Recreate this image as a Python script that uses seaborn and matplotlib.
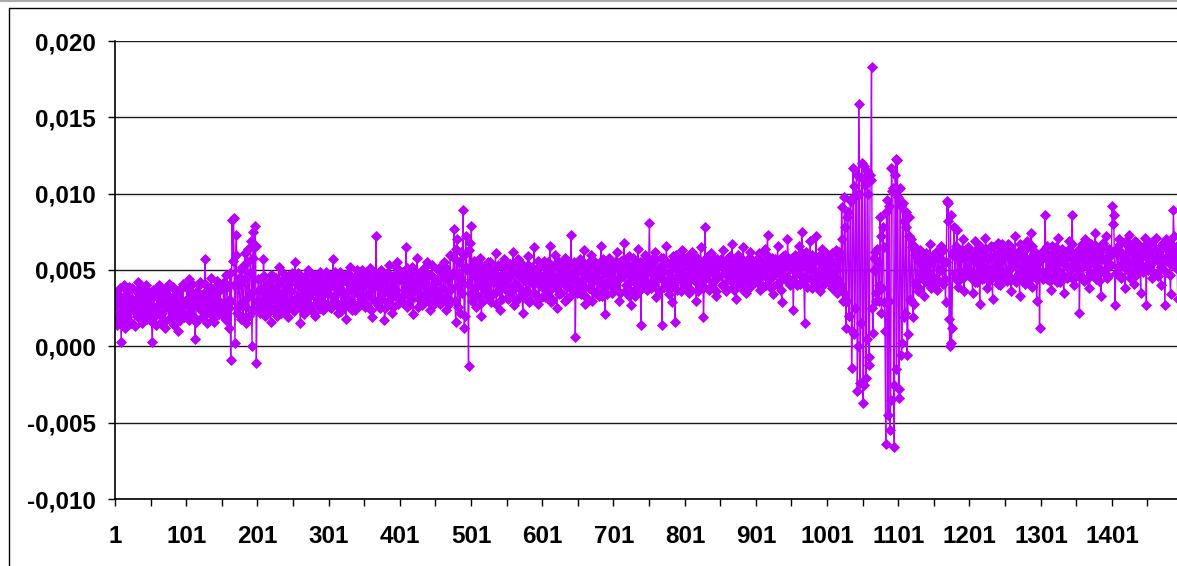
import numpy as np
import pandas as pd
import matplotlib
matplotlib.use("Agg")
import matplotlib.pyplot as plt
import seaborn as sns
from matplotlib.ticker import FixedLocator, FuncFormatter
from matplotlib.lines import Line2D

# Values in units of 1e-4.
# odd_XXXX: observations XXXX, XXXX+2, ... ; even_XXXX: observations XXXX+1, XXXX+3, ...
odd_0001 = [27, 18, 34, 22, 3, 31, 40, 24, 19, 36, 28, 15, 38, 25, 30, 21, 42, 26, 17, 33, 29, 22, 37, 20, 31]
odd_0051 = [24, 3, 33, 20, 36, 27, 15, 38, 22, 29, 12, 34, 26, 41, 19, 30, 23, 37, 28, 10, 32, 25, 39, 21, 30]
odd_0101 = [30, 22, 44, 26, 35, 18, 5, 33, 27, 40, 24, 31, 20, 57, 29, 36, 23, 45, 28, 16, 34, 25, 41, 30, 22]
odd_0151 = [28, 38, 21, 47, 30, 12, -9, 83, 84, 2, 73, 25, 40, 18, 52, 30, 61, 15, 64, 33, 69, 0, 75, 79, -11]
odd_0201 = [36, 24, 45, 30, 57, 20, 38, 27, 42, 16, 33, 46, 25, 39, 29, 52, 22, 35, 44, 28, 37, 19, 41, 31, 48]
odd_0251 = [30, 55, 26, 40, 33, 15, 45, 29, 38, 23, 50, 32, 27, 43, 36, 20, 47, 31, 39, 25, 44, 34, 28, 49, 35]
odd_0301 = [38, 26, 46, 57, 30, 41, 22, 36, 49, 28, 43, 33, 18, 45, 37, 52, 29, 40, 24, 47, 35, 42, 27, 50, 33]
odd_0351 = [40, 28, 46, 33, 51, 19, 38, 44, 72, 30, 42, 25, 48, 36, 17, 45, 39, 53, 31, 41, 26, 47, 37, 55, 32]
odd_0401 = [44, 30, 49, 37, 65, 26, 42, 35, 52, 21, 46, 39, 58, 31, 44, 27, 50, 40, 34, 55, 38, 24, 47, 41, 36]
odd_0451 = [42, 33, 51, 28, 46, 38, 55, 24, 44, 36, 60, 30, 48, 77, 16, 70, 40, 22, 62, 89, 12, 72, 50, -13, 68]
odd_0501 = [79, 35, 56, 26, 45, 40, 58, 20, 47, 38, 52, 33, 44, 55, 29, 49, 42, 61, 36, 46, 24, 53, 41, 57, 37]
odd_0551 = [45, 31, 54, 38, 62, 27, 48, 40, 57, 33, 46, 22, 51, 43, 36, 59, 30, 47, 41, 65, 34, 50, 28, 44, 53]
odd_0601 = [39, 56, 32, 48, 44, 66, 29, 51, 41, 60, 25, 46, 53, 35, 49, 42, 58, 31, 47, 38, 73, 44, 55, 6, 50]
odd_0651 = [42, 57, 34, 49, 63, 28, 52, 45, 38, 60, 30, 47, 55, 36, 50, 43, 66, 33, 48, 21, 54, 40, 58, 46, 35]
odd_0701 = [51, 38, 62, 44, 30, 56, 47, 68, 36, 52, 41, 59, 27, 48, 54, 33, 50, 64, 42, 14, 55, 46, 60, 37, 49]
odd_0751 = [81, 40, 57, 45, 62, 32, 51, 47, 58, 14, 53, 42, 66, 38, 49, 55, 29, 52, 16, 60, 44, 50, 36, 63, 47]
odd_0801 = [53, 41, 59, 35, 48, 62, 44, 51, 30, 56, 47, 65, 39, 19, 78, 45, 54, 37, 61, 49, 42, 57, 33, 52, 46]
odd_0851 = [55, 40, 63, 48, 36, 58, 51, 44, 67, 39, 53, 31, 60, 47, 56, 42, 65, 50, 35, 57, 46, 62, 41, 54, 49]
odd_0901 = [52, 43, 61, 37, 56, 48, 64, 40, 73, 51, 45, 58, 34, 55, 49, 66, 42, 57, 29, 53, 60, 46, 70, 44, 51]
odd_0951 = [56, 24, 60, 48, 53, 66, 41, 75, 57, 15, 62, 45, 54, 69, 38, 58, 50, 72, 44, 59, 36, 64, 52, 47, 61]
odd_1001 = [52, 44, 60, 38, 55, 47, 63, 35, 58, 41, 91, 30, 98, 12, 85, 20, 96, -14, 117, 8, 99, -29, 159, -24, 120]
odd_1051 = [-37, 118, -21, 115, -7, 112, 183, 9, 58, 30, 64, 40, 85, 22, 78, 29, -64, 96, 30, -55, 117, 104, -66, 123, 122]
odd_1101 = [-34, 104, -6, 94, 19, 88, -6, 85, 31, 70, 19, 66, 42, 58, 36, 63, 47, 55, 33, 61, 50, 45, 67, 38, 57]
odd_1151 = [44, 62, 37, 58, 50, 66, 41, 55, 29, 95, 94, 0, 2, 60, 78, 45, 76, 39, 57, 49, 70, 36, 58, 51, 64]
odd_1201 = [47, 60, 35, 56, 69, 42, 58, 28, 63, 52, 45, 71, 38, 57, 49, 66, 31, 59, 53, 44, 68, 40, 56, 62, 48]
odd_1251 = [60, 43, 67, 51, 36, 62, 55, 72, 46, 58, 33, 64, 50, 57, 41, 69, 53, 47, 74, 39, 61, 56, 30, 58, 12]
odd_1301 = [58, 49, 63, 86, 44, 60, 53, 37, 66, 51, 59, 42, 71, 55, 48, 64, 35, 57, 62, 46, 69, 52, 86, 40, 61]
odd_1351 = [54, 47, 22, 65, 58, 43, 70, 52, 61, 38, 67, 55, 49, 74, 44, 59, 63, 33, 57, 66, 50, 72, 46, 60, 53]
odd_1401 = [92, 86, 27, 64, 52, 70, 45, 61, 58, 38, 67, 55, 73, 48, 62, 41, 69, 57, 50, 66, 35, 63, 59, 71, 27]
odd_1451 = [60, 53, 68, 45, 64, 57, 71, 49, 62, 40, 66, 58, 27, 70, 55, 63, 34, 61, 89, 56, 65, 31, 60, 52, 67]

even_0001 = [35, 14, 30, 38, 17, 27, 12, 33, 22, 39, 16, 31, 24, 13, 36, 20, 29, 37, 15, 32, 23, 40, 18, 28, 34]
even_0051 = [16, 37, 25, 14, 32, 40, 21, 29, 15, 35, 26, 38, 18, 31, 23, 39, 14, 33, 20, 36, 17, 30, 41, 19, 28]
even_0101 = [38, 17, 33, 41, 20, 30, 16, 36, 25, 42, 19, 34, 27, 40, 15, 31, 22, 38, 18, 35, 28, 43, 21, 37, 26]
even_0151 = [20, 42, 17, 39, 25, 48, 30, 56, 40, 60, 22, 45, 28, 50, 19, 44, 26, 55, 20, 48, 35, 58, 24, 66, 30]
even_0201 = [44, 22, 38, 27, 46, 34, 21, 40, 30, 47, 24, 37, 45, 20, 35, 42, 26, 48, 31, 23, 39, 46, 28, 36, 25]
even_0251 = [23, 44, 31, 48, 26, 40, 37, 21, 46, 33, 42, 25, 39, 47, 22, 36, 44, 28, 49, 30, 24, 41, 35, 45, 27]
even_0301 = [46, 25, 41, 32, 49, 27, 44, 38, 23, 47, 34, 26, 42, 48, 29, 39, 24, 45, 36, 50, 28, 43, 31, 40, 47]
even_0351 = [26, 47, 34, 43, 24, 41, 49, 30, 45, 27, 39, 50, 31, 44, 25, 48, 35, 29, 46, 22, 42, 33, 51, 28, 44]
even_0401 = [49, 29, 45, 34, 51, 27, 40, 47, 31, 50, 36, 43, 26, 48, 33, 46, 29, 52, 39, 30, 47, 35, 53, 28, 44]
even_0451 = [31, 50, 36, 47, 29, 45, 52, 33, 48, 28, 46, 38, 58, 30, 64, 26, 55, 44, 35, 60, 20, 52, 41, 63, 34]
even_0501 = [30, 52, 38, 49, 33, 54, 43, 29, 50, 36, 47, 55, 32, 45, 51, 34, 48, 28, 53, 40, 46, 31, 54, 42, 49]
even_0551 = [52, 33, 48, 36, 54, 41, 30, 50, 38, 55, 45, 32, 49, 37, 53, 29, 46, 52, 35, 48, 42, 56, 31, 47, 39]
even_0601 = [33, 53, 40, 55, 36, 49, 31, 52, 45, 38, 56, 34, 47, 42, 54, 30, 50, 39, 55, 33, 48, 37, 53, 44, 35]
even_0651 = [55, 36, 51, 40, 53, 32, 48, 38, 56, 42, 50, 35, 54, 45, 33, 52, 39, 57, 41, 49, 34, 55, 43, 51, 38]
even_0701 = [38, 56, 43, 52, 35, 50, 46, 57, 40, 54, 33, 49, 44, 58, 37, 53, 41, 36, 55, 47, 51, 39, 57, 42, 53]
even_0751 = [54, 38, 50, 41, 57, 44, 36, 52, 48, 58, 39, 55, 43, 34, 53, 46, 59, 40, 51, 37, 56, 45, 50, 42, 58]
even_0801 = [40, 57, 45, 52, 37, 55, 49, 42, 58, 36, 53, 44, 56, 39, 51, 47, 59, 38, 54, 43, 50, 36, 57, 46, 53]
even_0851 = [57, 41, 54, 38, 52, 46, 59, 43, 50, 37, 56, 45, 53, 40, 58, 48, 36, 55, 44, 51, 39, 57, 47, 54, 42]
even_0901 = [42, 58, 46, 55, 39, 53, 49, 60, 44, 56, 38, 52, 47, 57, 41, 54, 50, 37, 59, 45, 55, 43, 58, 40, 53]
even_0951 = [58, 43, 55, 40, 57, 47, 52, 61, 45, 53, 39, 58, 50, 44, 60, 42, 55, 48, 38, 57, 46, 59, 41, 54, 50]
even_1001 = [42, 58, 47, 61, 40, 55, 50, 44, 62, 38, 70, 35, 78, 30, 88, 20, 95, 10, 105, 25, 112, 0, 100, 15, 110]
even_1051 = [-25, 106, 5, 100, -12, 109, 25, 50, 62, 35, 55, 30, 72, 38, 65, 10, 88, -45, 92, -35, 102, -25, 112, -15, 98]
even_1101 = [-28, 92, 2, 82, 22, 78, 8, 72, 30, 65, 28, 60, 40, 56, 38, 62, 45, 52, 60, 42, 58, 47, 55, 41, 60]
even_1151 = [58, 45, 62, 42, 57, 50, 63, 44, 55, 82, 18, 86, 12, 62, 48, 66, 43, 60, 47, 63, 45, 61, 49, 65, 46]
even_1201 = [61, 45, 58, 42, 63, 49, 56, 66, 44, 60, 47, 64, 51, 43, 59, 48, 65, 46, 57, 41, 62, 50, 67, 45, 60]
even_1251 = [46, 63, 50, 66, 44, 58, 53, 42, 61, 48, 67, 45, 60, 52, 64, 43, 57, 49, 66, 46, 62, 51, 44, 59, 56]
even_1301 = [62, 44, 59, 48, 66, 51, 43, 61, 56, 46, 65, 49, 58, 42, 63, 47, 60, 53, 45, 64, 50, 67, 44, 57, 52]
even_1351 = [47, 63, 51, 67, 45, 60, 54, 44, 65, 49, 61, 57, 46, 66, 52, 43, 62, 50, 68, 48, 58, 45, 64, 53, 60]
even_1401 = [80, 62, 48, 64, 52, 67, 46, 60, 55, 69, 50, 63, 45, 66, 54, 61, 47, 68, 51, 59, 64, 49, 66, 53, 62]
even_1451 = [50, 66, 54, 69, 48, 63, 57, 46, 65, 52, 68, 55, 49, 64, 60, 47, 67, 53, 72, 51, 66, 56, 48, 63, 58]

odd_segments = [odd_0001, odd_0051, odd_0101, odd_0151, odd_0201, odd_0251, odd_0301, odd_0351,
                odd_0401, odd_0451, odd_0501, odd_0551, odd_0601, odd_0651, odd_0701, odd_0751,
                odd_0801, odd_0851, odd_0901, odd_0951, odd_1001, odd_1051, odd_1101, odd_1151,
                odd_1201, odd_1251, odd_1301, odd_1351, odd_1401, odd_1451]
even_segments = [even_0001, even_0051, even_0101, even_0151, even_0201, even_0251, even_0301, even_0351,
                 even_0401, even_0451, even_0501, even_0551, even_0601, even_0651, even_0701, even_0751,
                 even_0801, even_0851, even_0901, even_0951, even_1001, even_1051, even_1101, even_1151,
                 even_1201, even_1251, even_1301, even_1351, even_1401, even_1451]

x_tick_labels = ["1", "101", "201", "301", "401", "501", "601", "701", "801", "901",
                 "1001", "1101", "1201", "1301", "1401"]
y_ticks = [-0.010, -0.005, 0.000, 0.005, 0.010, 0.015, 0.020]

odd_vals = np.concatenate([np.array(s, dtype=float) for s in odd_segments])
even_vals = np.concatenate([np.array(s, dtype=float) for s in even_segments])
values = np.column_stack([odd_vals, even_vals]).ravel() * 1e-4
category = np.arange(1, len(values) + 1)
df = pd.DataFrame({"category": category, "value": values})

sns.set_theme(style="white")
plt.rcParams["font.family"] = ["Liberation Sans", "DejaVu Sans"]

W, H = 1177, 566
fig = plt.figure(figsize=(W / 100, H / 100), dpi=100)
ax = fig.add_axes([115 / W, 67 / H, (W - 115) / W, 458 / H])

purple = "#B900FF"
sns.lineplot(data=df, x="category", y="value", ax=ax, estimator=None, sort=False,
             color=purple, linewidth=1.0, marker="D", markersize=5.0,
             markeredgewidth=0.6, markeredgecolor=purple, markerfacecolor=purple)

px_per_cat = 0.712
ax.set_xlim(0.5, 0.5 + (W - 115) / px_per_cat)
ax.set_ylim(-0.010, 0.020)

ax.yaxis.set_major_locator(FixedLocator(y_ticks))
ax.yaxis.set_major_formatter(FuncFormatter(lambda v, p: f"{v:.3f}".replace(".", ",")))
ax.grid(axis="y", color="#1a1a1a", linewidth=1.0)
ax.grid(axis="x", visible=False)
ax.set_axisbelow(True)

major_x = [int(s) for s in x_tick_labels]
ax.xaxis.set_major_locator(FixedLocator(major_x))
ax.set_xticklabels(x_tick_labels)
ax.xaxis.set_minor_locator(FixedLocator(np.arange(0.5, 1500, 50)))

ax.tick_params(axis="x", which="major", length=0, pad=19, labelsize=17.5, labelcolor="black")
ax.tick_params(axis="x", which="minor", bottom=True, length=5, width=1.0, color="black", direction="out")
ax.tick_params(axis="y", which="major", left=True, length=5, width=1.0, color="black",
               direction="out", pad=8.5, labelsize=17.5, labelcolor="black")
for lab in ax.get_xticklabels() + ax.get_yticklabels():
    lab.set_fontweight("bold")

for side in ["top", "right"]:
    ax.spines[side].set_visible(False)
for side in ["left", "bottom"]:
    ax.spines[side].set_visible(True)
    ax.spines[side].set_color("black")
    ax.spines[side].set_linewidth(1.2)

ax.set_xlabel("")
ax.set_ylabel("")

# outer chart frame (partially visible in the reference)
fig.add_artist(Line2D([0, 1], [1 - 0.5 / H, 1 - 0.5 / H], transform=fig.transFigure,
                      color="#aaaaaa", linewidth=1.5))
fig.add_artist(Line2D([9 / W, 1], [1 - 7.5 / H, 1 - 7.5 / H], transform=fig.transFigure,
                      color="black", linewidth=1.0))
fig.add_artist(Line2D([9 / W, 9 / W], [0, 1 - 7.5 / H], transform=fig.transFigure,
                      color="black", linewidth=1.0))

fig.savefig("out.png", dpi=100, facecolor="white")
